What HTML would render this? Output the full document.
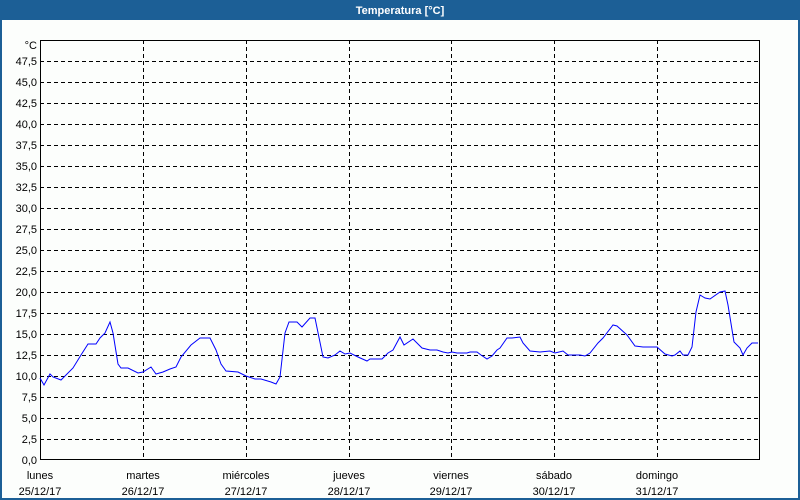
<!DOCTYPE html>
<html><head><meta charset="utf-8"><style>
html,body{margin:0;padding:0;width:800px;height:500px;overflow:hidden;background:#fcfefc;}
svg{display:block;font-family:"Liberation Sans",sans-serif;font-size:11px;}
</style></head><body>
<svg width="800" height="500" viewBox="0 0 800 500">
<rect x="0" y="0" width="800" height="500" fill="#1c5f96"/>
<rect x="2" y="20" width="796" height="478" fill="#fcfefc"/>
<text x="400" y="14" fill="#fff" font-weight="bold" text-anchor="middle">Temperatura [°C]</text>
<g stroke="#000" stroke-width="1" stroke-dasharray="4,3" shape-rendering="crispEdges">
<line x1="40" x2="760" y1="439.5" y2="439.5"/><line x1="40" x2="760" y1="418.5" y2="418.5"/>
<line x1="40" x2="760" y1="397.5" y2="397.5"/><line x1="40" x2="760" y1="376.5" y2="376.5"/>
<line x1="40" x2="760" y1="355.5" y2="355.5"/><line x1="40" x2="760" y1="334.5" y2="334.5"/>
<line x1="40" x2="760" y1="313.5" y2="313.5"/><line x1="40" x2="760" y1="292.5" y2="292.5"/>
<line x1="40" x2="760" y1="271.5" y2="271.5"/><line x1="40" x2="760" y1="250.5" y2="250.5"/>
<line x1="40" x2="760" y1="229.5" y2="229.5"/><line x1="40" x2="760" y1="208.5" y2="208.5"/>
<line x1="40" x2="760" y1="187.5" y2="187.5"/><line x1="40" x2="760" y1="166.5" y2="166.5"/>
<line x1="40" x2="760" y1="145.5" y2="145.5"/><line x1="40" x2="760" y1="124.5" y2="124.5"/>
<line x1="40" x2="760" y1="103.5" y2="103.5"/><line x1="40" x2="760" y1="82.5" y2="82.5"/>
<line x1="40" x2="760" y1="61.5" y2="61.5"/>
<line x1="143.5" x2="143.5" y1="40" y2="460"/><line x1="246.5" x2="246.5" y1="40" y2="460"/>
<line x1="349.5" x2="349.5" y1="40" y2="460"/><line x1="451.5" x2="451.5" y1="40" y2="460"/>
<line x1="554.5" x2="554.5" y1="40" y2="460"/><line x1="657.5" x2="657.5" y1="40" y2="460"/>
</g>
<rect x="40.5" y="40.5" width="719" height="419" fill="none" stroke="#000" stroke-width="1" shape-rendering="crispEdges"/>
<g text-anchor="end" fill="#000">
<text x="37" y="49">°C</text>
<text x="37" y="65">47,5</text><text x="37" y="86">45,0</text><text x="37" y="107">42,5</text>
<text x="37" y="128">40,0</text><text x="37" y="149">37,5</text><text x="37" y="170">35,0</text>
<text x="37" y="191">32,5</text><text x="37" y="212">30,0</text><text x="37" y="233">27,5</text>
<text x="37" y="254">25,0</text><text x="37" y="275">22,5</text><text x="37" y="296">20,0</text>
<text x="37" y="317">17,5</text><text x="37" y="338">15,0</text><text x="37" y="359">12,5</text>
<text x="37" y="380">10,0</text><text x="37" y="401">7,5</text><text x="37" y="422">5,0</text>
<text x="37" y="443">2,5</text><text x="37" y="464">0,0</text>
</g>
<g text-anchor="middle" fill="#000">
<text x="40" y="479">lunes</text><text x="40" y="495">25/12/17</text>
<text x="143" y="479">martes</text><text x="143" y="495">26/12/17</text>
<text x="246" y="479">miércoles</text><text x="246" y="495">27/12/17</text>
<text x="349" y="479">jueves</text><text x="349" y="495">28/12/17</text>
<text x="451" y="479">viernes</text><text x="451" y="495">29/12/17</text>
<text x="554" y="479">sábado</text><text x="554" y="495">30/12/17</text>
<text x="657" y="479">domingo</text><text x="657" y="495">31/12/17</text>
</g>
<polyline fill="none" stroke="#0000ff" stroke-width="1" points="40,378 44,385 50,374 53,377 61,380 65,376 73,368 81,355 88,344 96,344 100,338 105,333 110,322 113,333 118,364 121,368 128,368 138,373 143,372 151,367 156,374 163,372 170,369 176,367 181,357 191,345 200,338 210,338 216,350 221,364 226,371 238,372 246,376 255,379 261,379 271,382 276,384 280,377 285,333 289,322 297,322 302,327 310,318 315,318 323,357 328,358 335,355 340,351 345,354 350,353 358,357 367,361 370,359 382,359 388,353 393,350 400,337 404,345 413,339 422,348 430,350 437,350 443,352 448,353 452,352 457,353 467,353 470,352 477,352 481,355 487,359 492,356 497,350 500,348 507,338 512,338 520,337 523,343 530,351 540,352 550,351 555,353 563,351 568,355 580,355 585,356 590,353 598,343 603,338 613,325 617,326 627,335 635,346 643,347 657,347 665,354 672,356 675,355 680,351 683,355 688,355 692,347 696,312 700,295 705,298 710,299 720,292 725,291 728,305 734,342 740,348 743,355 747,348 752,343 758,343"/>
</svg>
</body></html>
